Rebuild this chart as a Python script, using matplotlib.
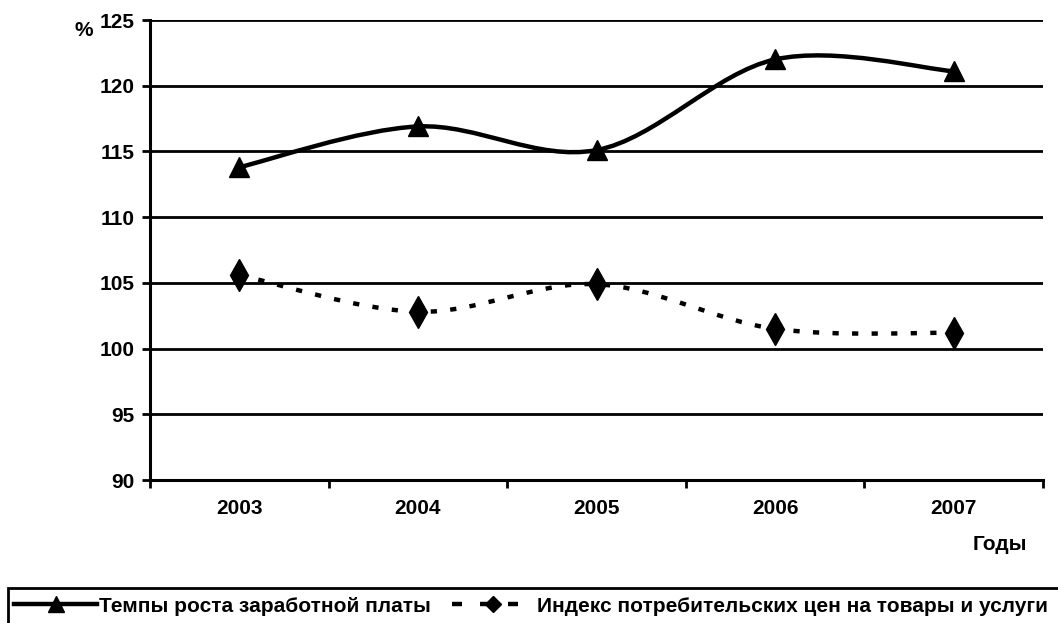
import numpy as np
import matplotlib.pyplot as plt
from matplotlib.path import Path
from matplotlib.patches import PathPatch, Rectangle
from matplotlib.lines import Line2D

plt.rcParams['font.family'] = ['Liberation Sans', 'DejaVu Sans']
plt.rcParams['font.weight'] = 'bold'

years = ['2003', '2004', '2005', '2006', '2007']
wages = [113.8, 116.9, 115.1, 122.0, 121.1]
cpi = [105.6, 102.8, 104.9, 101.5, 101.2]
wages_label = 'Темпы роста заработной платы'
cpi_label = 'Индекс потребительских цен на товары и услуги'

FS = 15
DASH = (0, (1.4, 3.0))


def smooth_path(x, y):
    # Excel-like smoothed line: cubic bezier through each point
    pts = np.column_stack([x, y]).astype(float)
    n = len(pts)
    verts = [pts[0]]
    codes = [Path.MOVETO]
    for i in range(n - 1):
        p0 = pts[i - 1] if i > 0 else pts[i]
        p1 = pts[i]
        p2 = pts[i + 1]
        p3 = pts[i + 2] if i + 2 < n else pts[i + 1]
        c1 = p1 + (p2 - p0) / 6
        c2 = p2 - (p3 - p1) / 6
        verts += [c1, c2, p2]
        codes += [Path.CURVE4] * 3
    return Path(verts, codes)


fig = plt.figure(figsize=(10.58, 6.23), dpi=100)
ax = fig.add_axes([150 / 1058, 1 - 480 / 623, 893 / 1058, 460 / 623])

x = np.arange(len(years))

ax.add_patch(PathPatch(smooth_path(x, wages), fill=False, lw=3.2, color='black',
                       capstyle='butt', zorder=3))
ax.plot(x, wages, ls='none', marker='^', ms=15, color='black', zorder=4)

ax.add_patch(PathPatch(smooth_path(x, cpi), fill=False, lw=3.2, color='black',
                       ls=DASH, capstyle='butt', zorder=3))
ax.plot(x, cpi, ls='none', marker='d', ms=16, color='black', zorder=4)

ax.set_xlim(-0.5, len(years) - 0.5)
ax.set_ylim(90, 125)
ax.set_yticks(np.arange(90, 126, 5))
ax.set_xticks(x)
ax.set_xticklabels(years)
ax.set_xticks(np.arange(-0.5, len(years), 1), minor=True)
ax.tick_params(axis='x', which='major', length=0, pad=14, labelsize=FS)
ax.tick_params(axis='x', which='minor', length=6, width=2, direction='out')
ax.tick_params(axis='y', length=6, width=2, direction='out', labelsize=FS, pad=5)
ax.grid(axis='y', color='black', lw=2)
ax.set_axisbelow(True)
for s in ['top', 'right']:
    ax.spines[s].set_visible(False)
for s in ['left', 'bottom']:
    ax.spines[s].set_linewidth(2.2)

fig.text(93 / 1058, 1 - 30 / 623, '%', fontsize=FS, ha='right', va='center')
fig.text(1027 / 1058, 1 - 545 / 623, 'Годы', fontsize=FS, ha='right', va='center')

# legend box (runs past the figure edge)
fig.patches.append(Rectangle((8 / 1058, -0.05), 1.0, 1 - 588 / 623 + 0.05,
                             transform=fig.transFigure, fill=False,
                             edgecolor='black', lw=2))
handles = [
    Line2D([], [], color='black', lw=3.2, marker='^', ms=12),
    Line2D([], [], color='black', lw=3.2, ls=(0, (2.25, 4.05)), marker='D', ms=8),
]
fig.legend(handles, [wages_label, cpi_label], loc='center left',
           bbox_to_anchor=(14 / 1058, 1 - 606 / 623), ncol=2, frameon=False,
           fontsize=15, handlelength=4.0, handletextpad=0.08, columnspacing=1.0,
           borderaxespad=0, borderpad=0)

fig.savefig('out.png', dpi=100)
